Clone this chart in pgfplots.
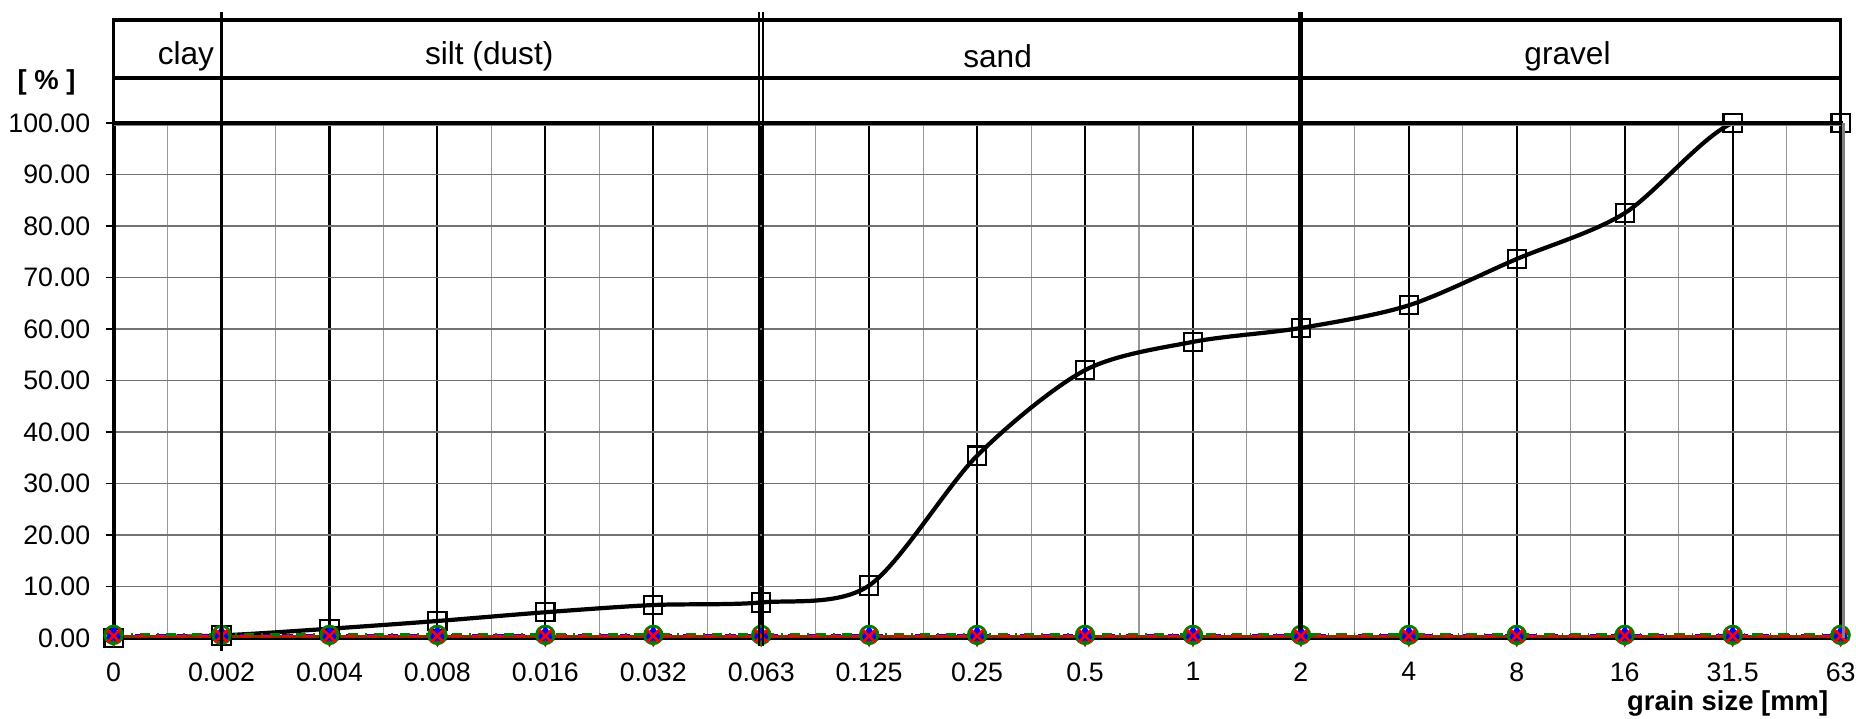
\documentclass[border=0pt]{standalone}
\usepackage{fontspec}
\setmainfont{Liberation Sans}
\usepackage{pgfplots}
\pgfplotsset{compat=1.18}

\definecolor{gridgray}{gray}{0.45}
\definecolor{minorgray}{gray}{0.6}
\definecolor{brownred}{RGB}{150,40,0}

\begin{document}
\begin{tikzpicture}
\useasboundingbox (-1.136,-0.81) rectangle (17.424,6.38);
\begin{axis}[
  at={(0,0)}, anchor=south west,
  scale only axis, width=17.27cm, height=5.15cm,
  xmin=0, xmax=16, ymin=0, ymax=100,
  clip=true,
  axis line style={line width=1.1pt},
  xtick={0,...,16},
  xticklabels={0,0.002,0.004,0.008,0.016,0.032,0.063,0.125,0.25,0.5,1,2,4,8,16,31.5,63},
  minor x tick num=1,
  xtick style={draw=none},
  ytick={0,10,...,100},
  ytick align=outside, ytick pos=left,
  major tick length=0.08cm,
  ytick style={line width=0.4pt, black},
  xmajorgrids, xminorgrids, ymajorgrids,
  major x grid style={black, line width=0.6pt},
  minor x grid style={minorgray, line width=0.3pt},
  major y grid style={gridgray, line width=0.35pt},
  tick label style={font=\fontsize{7.6}{9}\selectfont},
  xticklabel style={yshift=-0.12cm},
  yticklabel style={xshift=-0.03cm, /pgf/number format/.cd, fixed, fixed zerofill, precision=2},
  /pgf/number format/assume math mode=true,
  after end axis/.code={
    % band above the plot
    \draw[line width=1pt] (axis cs:0,100) rectangle (axis cs:16,120);
    \draw[line width=1pt] (axis cs:0,108.7) -- (axis cs:16,108.7);
    \draw[gray, line width=0.8pt] (axis cs:0,99.6) -- (axis cs:16,99.6);
    \draw[black, line width=1.1pt] (axis cs:0,100) -- (axis cs:16,100);
    \draw[gray, line width=0.8pt] (axis cs:16.03,0) -- (axis cs:16.03,100);
    \draw[line width=1.1pt] (axis cs:1,121.6) -- (axis cs:1,-2.5);
    \draw[line width=0.6pt] (axis cs:5.98,121.6) -- (axis cs:5.98,-1.5);
    \draw[line width=0.6pt] (axis cs:6.02,121.6) -- (axis cs:6.02,-1.5);
    \draw[line width=1.4pt] (axis cs:11,121.6) -- (axis cs:11,1.5);
    \node[font=\fontsize{9}{11}\selectfont] at (axis cs:0.67,113.0) {clay};
    \node[font=\fontsize{9}{11}\selectfont] at (axis cs:3.48,113.0) {silt (dust)};
    \node[font=\fontsize{9}{11}\selectfont] at (axis cs:8.19,113.0) {sand};
    \node[font=\fontsize{9}{11}\selectfont] at (axis cs:13.47,113.0) {gravel};
    \node[font=\bfseries\fontsize{7.8}{9}\selectfont] at (axis cs:-0.62,107.8) {[ \% ]};
    \node[font=\bfseries\fontsize{7.8}{9}\selectfont, anchor=east] at (axis cs:16.0,-12.8) {grain size [mm]};
  },
]
% grading curve
\addplot[black, line width=1.2pt, smooth, tension=0.5, mark=square, mark size=2.6pt, mark options={line width=0.6pt}]
  coordinates {
  (0,0)(1,0.5)(2,1.8)(3,3.3)(4,5.0)(5,6.4)(6,6.9)(7,10.2)(8,35.4)
  (9,52.0)(10,57.5)(11,60.2)(12,64.6)(13,73.6)(14,82.5)(15,100)(16,100)};

% empty series along zero
\addplot[brownred, line width=0.9pt, mark=triangle, mark size=2.2pt, mark options={rotate=180}]
  coordinates {(0,0.3)(1,0.3)(2,0.3)(3,0.3)(4,0.3)(5,0.3)(6,0.3)(7,0.3)(8,0.3)(9,0.3)(10,0.3)(11,0.3)(12,0.3)(13,0.3)(14,0.3)(15,0.3)(16,0.3)};
\addplot[blue, dashed, line width=0.8pt, mark=triangle*, mark size=2.2pt, mark options={solid}]
  coordinates {(0,0.5)(1,0.5)(2,0.5)(3,0.5)(4,0.5)(5,0.5)(6,0.5)(7,0.5)(8,0.5)(9,0.5)(10,0.5)(11,0.5)(12,0.5)(13,0.5)(14,0.5)(15,0.5)(16,0.5)};
\addplot[green!50!black, dash dot, line width=0.8pt, mark=o, mark size=2.5pt, mark options={solid, line width=0.8pt}]
  coordinates {(0,0.6)(1,0.6)(2,0.6)(3,0.6)(4,0.6)(5,0.6)(6,0.6)(7,0.6)(8,0.6)(9,0.6)(10,0.6)(11,0.6)(12,0.6)(13,0.6)(14,0.6)(15,0.6)(16,0.6)};
\addplot[red, dashed, line width=0.8pt, mark=x, mark size=2.6pt, mark options={solid, line width=0.7pt}]
  coordinates {(0,0.4)(1,0.4)(2,0.4)(3,0.4)(4,0.4)(5,0.4)(6,0.4)(7,0.4)(8,0.4)(9,0.4)(10,0.4)(11,0.4)(12,0.4)(13,0.4)(14,0.4)(15,0.4)(16,0.4)};
\end{axis}
\end{tikzpicture}
\end{document}
